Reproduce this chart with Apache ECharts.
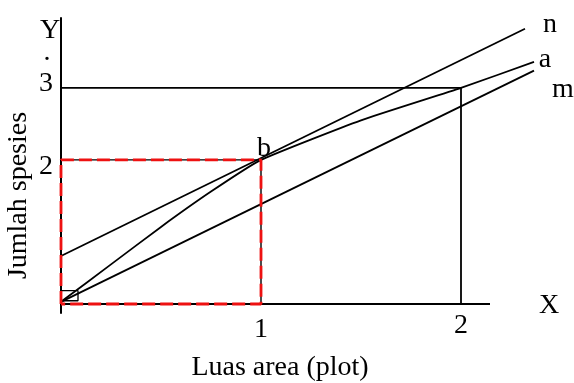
<!DOCTYPE html>
<html>
<head>
<meta charset="utf-8">
<title>Kurva spesies-area</title>
<script src="https://cdn.jsdelivr.net/npm/echarts@6/dist/echarts.min.js"></script>
<style>
  html, body { margin: 0; padding: 0; background: #ffffff; }
  #chart { width: 574px; height: 383px; }
</style>
</head>
<body>
<div id="chart"></div>
<script>
// Species–area diagram: lines n, m and curve a, with the 1-plot and 2-plot boxes.
const FONT = 'Liberation Serif, Times New Roman, serif';
const FS = 28;

const xTickLabels = { 1: '1', 2: '2' };
const yTickLabels = { 2: '2', 3: '3' };

const lineN = [[0, 0.667], [2.32, 3.82]];
const lineM = [[0, 0.03], [2.365, 3.24]];
const curveA = [[0, 0.03], [0.25, 0.55], [0.5, 1.07], [0.75, 1.56], [1, 2.0], [1.5, 2.55], [2, 3.0], [2.365, 3.36]];

// x axis runs from the origin to just past the 2-plot box
const xAxisLine = [[0, 0], [2.145, 0]];

const redBox = [[0, 0], [0, 2], [1, 2], [1, 0], [0, 0]];
const redBoxEdge = [[0, 2], [1, 2], [1, 0]];
const bigBox = [[0, 3], [2, 3], [2, 0]];
const plotSquare = [[0, 0.045], [0.085, 0.045], [0.085, 0.185], [0, 0.185]];

const markNames = ['n', 'a', 'm', 'b'];
const markPoints = [[2.32, 3.82], [2.365, 3.36], [2.365, 3.24], [1, 2.0]];
const markOffsets = [[25, -4], [11, -2], [29, 19], [3, -11]];

const chart = echarts.init(document.getElementById('chart'), null, { renderer: 'canvas' });

function lineSeries(name, data, opts) {
  return Object.assign({
    name: name,
    type: 'line',
    data: data,
    showSymbol: false,
    symbol: 'none',
    clip: false,
    silent: true,
    lineStyle: { color: '#000', width: 1.8 },
    z: 3
  }, opts || {});
}

const option = {
  animation: false,
  backgroundColor: '#ffffff',
  grid: { left: 61, right: 13, top: 18, bottom: 70, containLabel: false },
  xAxis: {
    type: 'value',
    min: 0,
    max: 2.5,
    splitLine: { show: false },
    axisTick: { show: false },
    axisLine: { show: false },
    axisLabel: {
      margin: -1,
      color: '#000',
      fontFamily: FONT,
      fontSize: FS,
      formatter: function (v) {
        const t = xTickLabels[Math.round(v * 1000) / 1000];
        if (!t) return '';
        return t === '1' ? '{one|1}' : '{two|2}';
      },
      rich: {
        one: { fontFamily: FONT, fontSize: FS, color: '#000', padding: [4, 0, 0, 0] },
        two: { fontFamily: FONT, fontSize: FS, color: '#000', padding: [0, 0, 0, 0] }
      }
    }
  },
  yAxis: {
    type: 'value',
    min: -0.125,
    max: 3.97,
    splitLine: { show: false },
    axisTick: { show: false },
    axisLine: { show: true, onZero: true, lineStyle: { color: '#000', width: 2 } },
    axisLabel: {
      margin: 8,
      color: '#000',
      fontFamily: FONT,
      fontSize: FS,
      showMinLabel: false,
      showMaxLabel: false,
      formatter: function (v) {
        const t = yTickLabels[Math.round(v * 1000) / 1000];
        if (!t) return '';
        return t === '3' ? '{three|3}' : '{two|2}';
      },
      rich: {
        three: { fontFamily: FONT, fontSize: FS, color: '#000', padding: [0, 0, 8, 0] },
        two: { fontFamily: FONT, fontSize: FS, color: '#000', padding: [14, 0, 0, 0] }
      }
    }
  },
  graphic: [
    { type: 'text', x: 50, y: 31, silent: true,
      style: { text: 'Y', font: FS + 'px ' + FONT, fill: '#000', textAlign: 'center', textVerticalAlign: 'middle' } },
    { type: 'text', x: 47, y: 53, silent: true,
      style: { text: '.', font: FS + 'px ' + FONT, fill: '#000', textAlign: 'center', textVerticalAlign: 'middle' } },
    { type: 'text', x: 549, y: 306, silent: true,
      style: { text: 'X', font: FS + 'px ' + FONT, fill: '#000', textAlign: 'center', textVerticalAlign: 'middle' } },
    { type: 'text', x: 280, y: 368, silent: true,
      style: { text: 'Luas area (plot)', font: FS + 'px ' + FONT, fill: '#000', textAlign: 'center', textVerticalAlign: 'middle' } },
    { type: 'text', x: 19, y: 195.5, rotation: Math.PI / 2, silent: true,
      style: { text: 'Jumlah spesies', font: FS + 'px ' + FONT, fill: '#000', textAlign: 'center', textVerticalAlign: 'middle' } }
  ],
  series: [
    lineSeries('sumbu-x', xAxisLine, { lineStyle: { color: '#000', width: 2 } }),
    lineSeries('kotak2', bigBox),
    lineSeries('kotak1-garis', redBoxEdge, { lineStyle: { color: '#000', width: 1.4 } }),
    lineSeries('kotak1', redBox, { lineStyle: { color: '#ee1111', width: 2.8, type: [13, 5] }, z: 4 }),
    lineSeries('plot', plotSquare, { lineStyle: { color: '#000', width: 1.3 } }),
    lineSeries('n', lineN),
    lineSeries('m', lineM),
    lineSeries('a', curveA, { smooth: 0.15 }),
    {
      name: 'label',
      type: 'scatter',
      clip: false,
      silent: true,
      symbolSize: 1,
      itemStyle: { color: 'rgba(255,255,255,0)' },
      z: 5,
      data: markPoints.map(function (p, i) {
        return {
          value: p,
          label: {
            show: true,
            position: 'inside',
            offset: markOffsets[i],
            formatter: markNames[i],
            color: '#000',
            textBorderWidth: 0,
            opacity: 1,
            fontFamily: FONT,
            fontSize: FS
          }
        };
      })
    }
  ]
};

chart.setOption(option);
</script>
</body>
</html>
